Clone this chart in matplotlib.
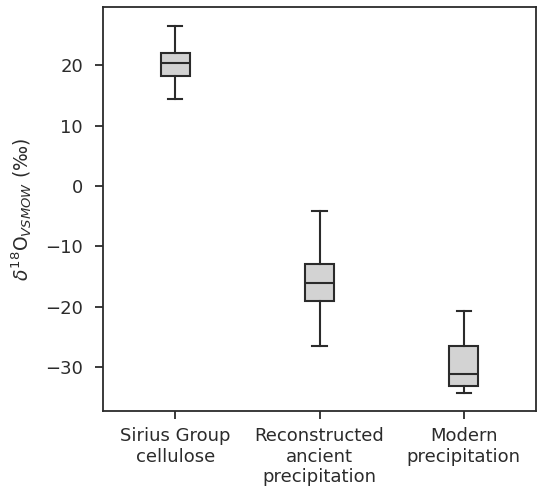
import matplotlib
matplotlib.use("Agg")
import matplotlib.pyplot as plt

categories = ["Sirius Group\ncellulose", "Reconstructed\nancient\nprecipitation", "Modern\nprecipitation"]
whislo = [14.5, -26.6, -34.3]
q1 = [18.2, -19.0, -33.1]
med = [20.4, -16.1, -31.2]
q3 = [22.0, -13.0, -26.6]
whishi = [26.6, -4.1, -20.7]

stats = []
for i, lab in enumerate(categories):
    stats.append(dict(label=lab, whislo=whislo[i], q1=q1[i], med=med[i],
                      q3=q3[i], whishi=whishi[i], fliers=[]))

fig = plt.figure(figsize=(5.37, 4.88), dpi=100)
ax = fig.add_axes([0.192, 0.158, 0.806, 0.828])
dark = "#2b2b2b"
ax.bxp(stats, widths=0.2, patch_artist=True, showfliers=False,
       boxprops=dict(facecolor="#d3d3d3", edgecolor=dark, linewidth=1.5),
       medianprops=dict(color=dark, linewidth=1.5),
       whiskerprops=dict(color=dark, linewidth=1.5),
       capprops=dict(color=dark, linewidth=1.5))
ax.set_xlim(0.5, 3.5)
ax.set_ylim(-37.3, 29.7)
ax.set_yticks([-30, -20, -10, 0, 10, 20])
ax.set_ylabel(r"$\delta^{18}\mathrm{O}_{VSMOW}$ (‰)", fontsize=13.5, color=dark, labelpad=8)
ax.tick_params(labelsize=13, colors=dark, width=1.3, length=5.5, pad=6)
ax.tick_params(axis="y", pad=9)
for s in ax.spines.values():
    s.set_color(dark)
    s.set_linewidth(1.3)
fig.savefig("out.png", dpi=100)
